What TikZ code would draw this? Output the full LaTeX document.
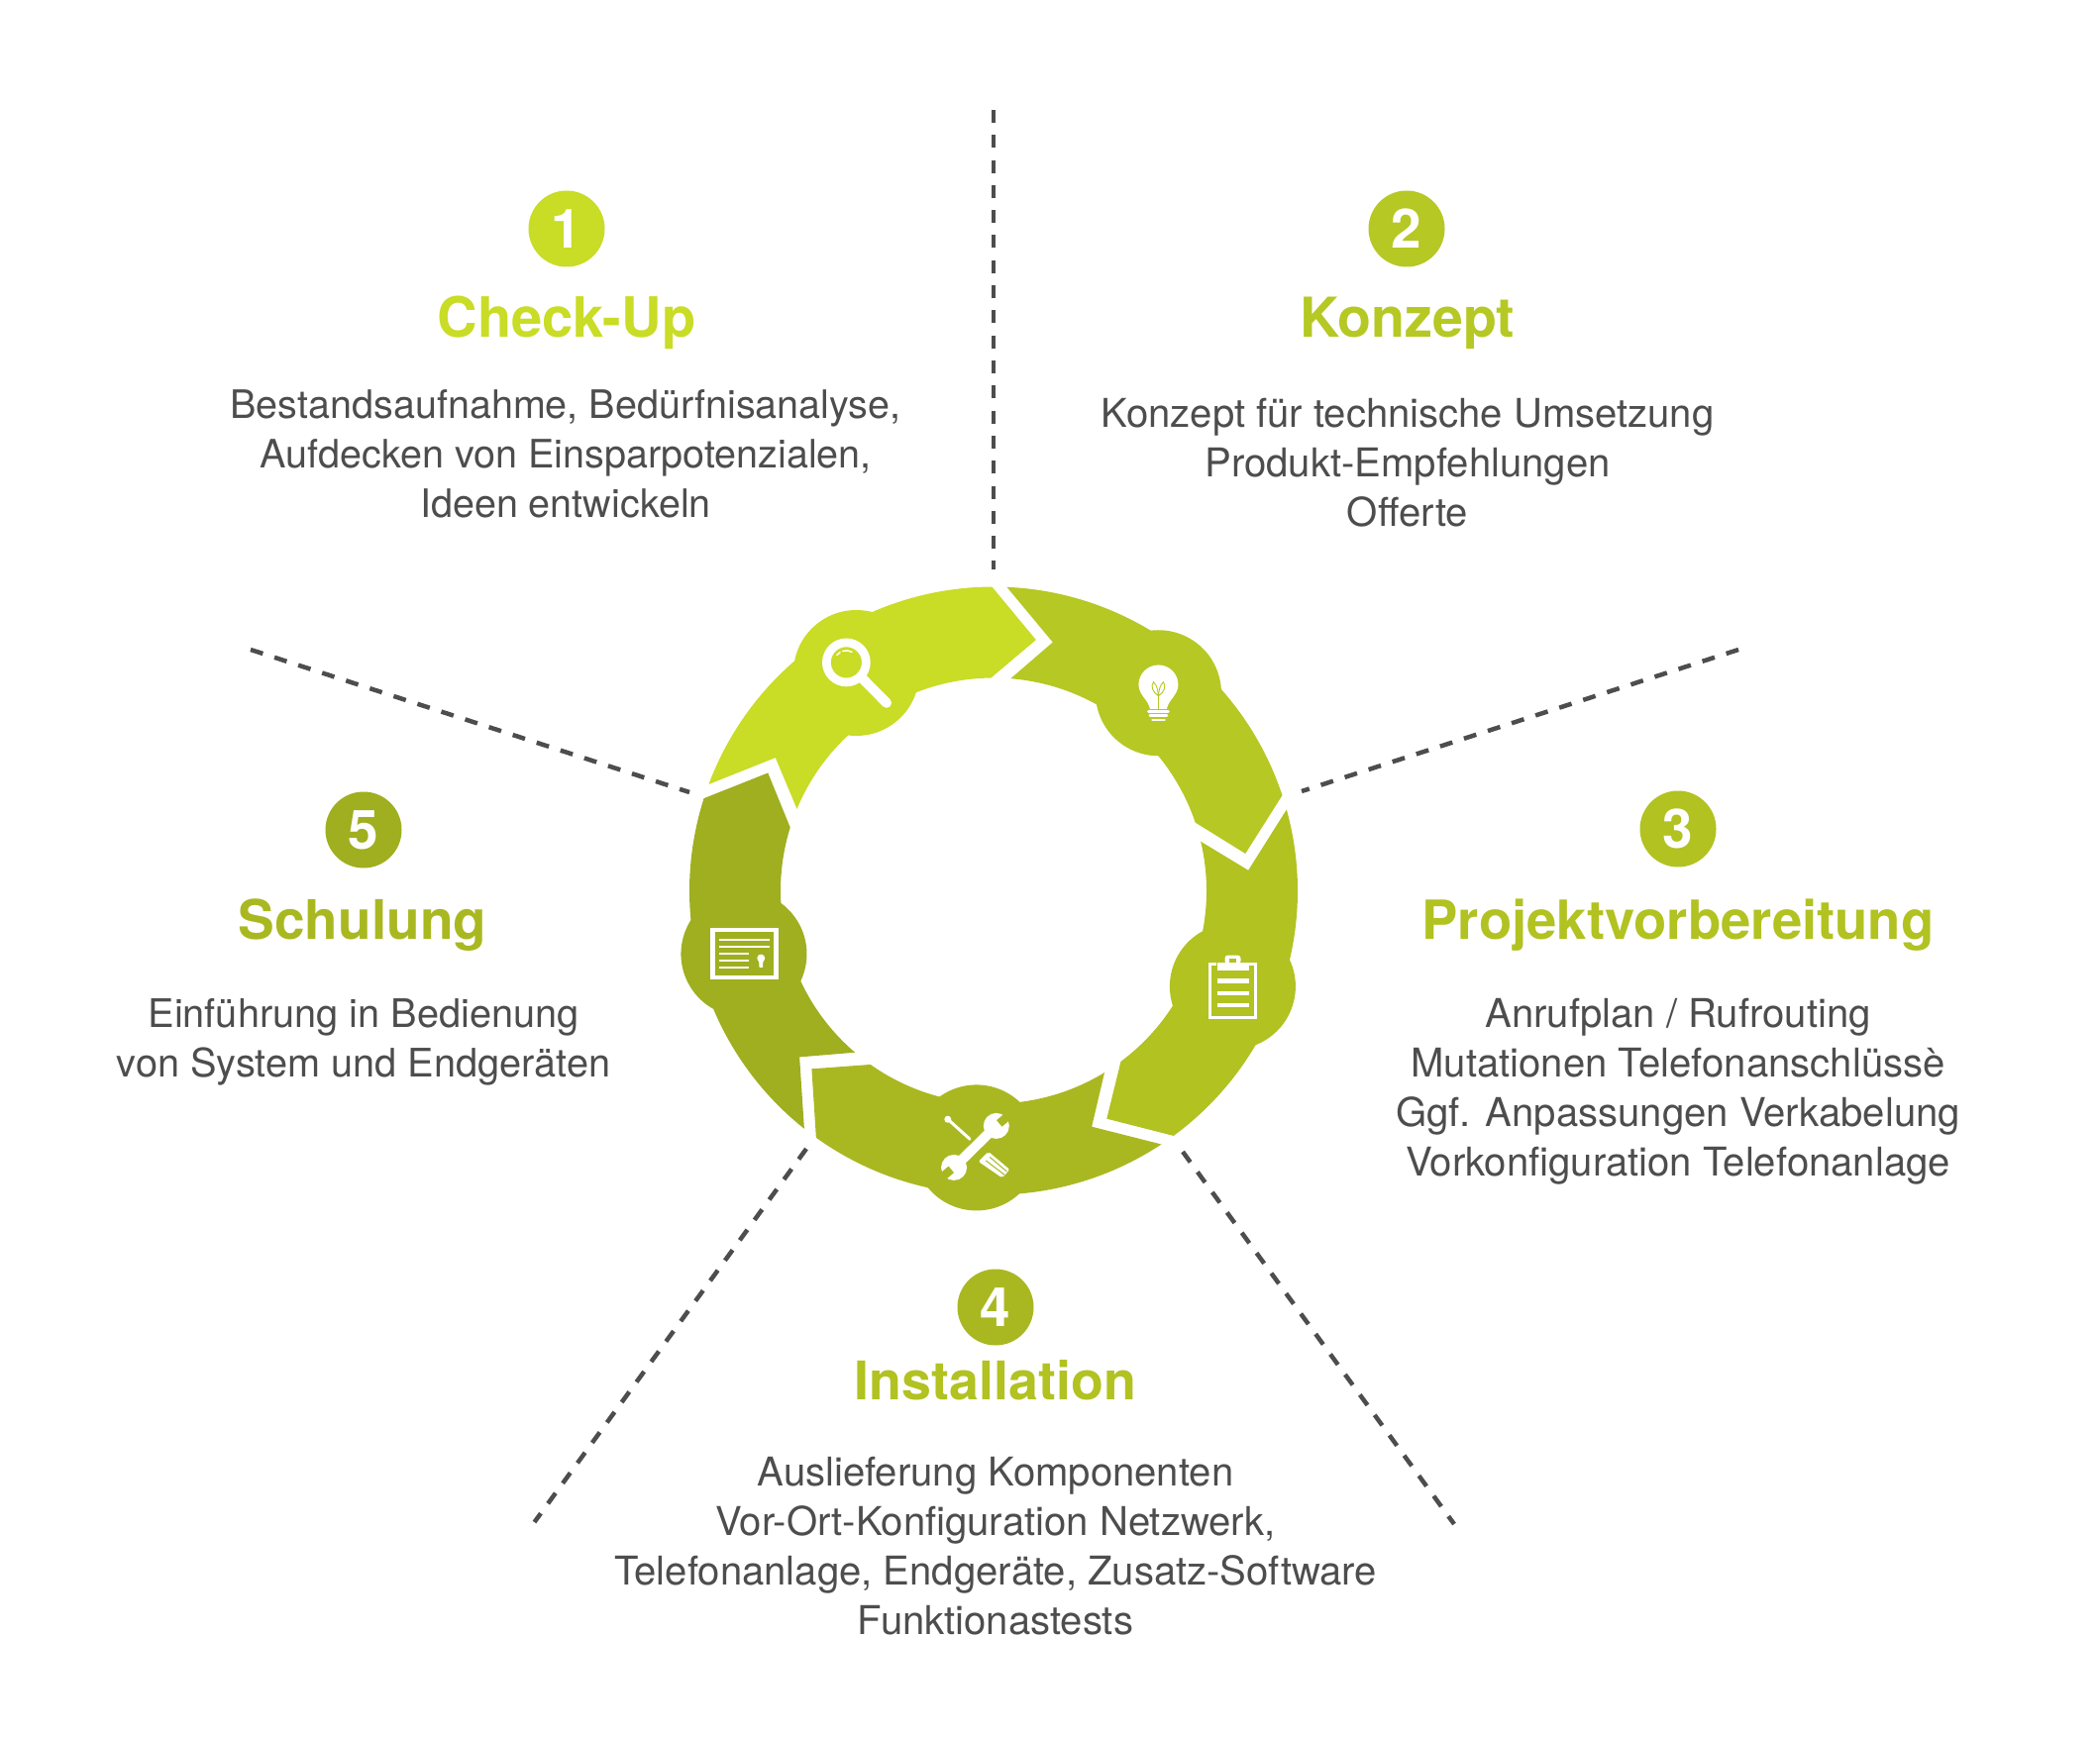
\documentclass[tikz,border=0pt]{standalone}
\usepackage{fontspec}
\setmainfont{TeX Gyre Heros}
\usepackage{xcolor}
\usepackage{tikz}
\usetikzlibrary{calc}
\definecolor{ringa}{HTML}{C9DC26}
\definecolor{ringb}{HTML}{B6C823}
\definecolor{ringc}{HTML}{B1C221}
\definecolor{ringd}{HTML}{A9B821}
\definecolor{ringe}{HTML}{9FAF1F}
\definecolor{inktxt}{HTML}{4D4D4D}
\tikzset{
  spoke/.style={line width=0.045cm, inktxt, dash pattern=on 0.13cm off 0.123cm},
  numdot/.style={circle, minimum size=0.77cm, inner sep=0pt, text=white, font=\fontsize{15.6}{16}\selectfont\bfseries},
  titletxt/.style={inner sep=0pt, font=\fontsize{#1}{18}\selectfont\bfseries},
  titletxt/.default=15.65,
  bodytxt/.style={inner sep=0pt, align=center, text=inktxt, font=\fontsize{#1}{14.22}\selectfont},
  bodytxt/.default=11.4,
  iconlocal/.style={x=0.1cm, y=0.1cm}
}

\begin{document}
\begin{tikzpicture}[x=1cm,y=1cm]
  \useasboundingbox (0,0) rectangle (21.2,17.54);
  \coordinate (mid) at (10.03,8.545);
  \foreach \k/\col in {0/ringa,1/ringb,2/ringc,3/ringd,4/ringe} {
    \begin{scope}[shift={(mid)}, rotate={-72*\k}]
      \fill[\col] (159.5:3.07) arc[start angle=159.5, end angle=90.3, radius=3.07] -- (80.4:2.57) -- (90.7:2.15)
        arc[start angle=90.7, end angle=157.4, radius=2.15] -- (148.6:2.58) -- cycle;
      \fill[\col] (122.2:2.6) circle[radius=0.635];
      \coordinate (bump\k) at (122.2:2.6);
    \end{scope}
  }

  \draw[spoke] (10.03,16.43) -- (10.03,11.79);
  \draw[spoke] (17.55,10.98) -- (13.14,9.55);
  \draw[spoke] (11.94,5.91) -- (14.68,2.15);
  \draw[spoke] (8.14,5.94) -- (5.395,2.17);
  \draw[spoke] (2.53,10.98) -- (6.96,9.54);

  % magnifier
  \begin{scope}[shift={(bump0)}, iconlocal]
    \draw[white, line width=0.087cm] (-1.01,1.06) circle[radius=0.2cm];
    \draw[white, line width=0.1cm, line cap=round] (0.45,-0.4) -- (3.06,-3.03);
    \draw[white, line width=0.015cm, line cap=round] ($(-1.01,1.06)+(142:1.2)$) arc[start angle=142, end angle=122, radius=0.12cm];
    \draw[white, line width=0.015cm, line cap=round] ($(-1.01,1.06)+(108:1.2)$) arc[start angle=108, end angle=62, radius=0.12cm];
  \end{scope}

  % bulb
  \begin{scope}[shift={(bump1)}, iconlocal]
    \fill[white] (-0.85,-1.6) .. controls (-1,-0.7) and (-2,-0.2) .. (-2,0.83) arc[start angle=180, end angle=0, radius=0.2cm]
      .. controls (2,-0.2) and (1,-0.7) .. (0.85,-1.6) -- cycle;
    \draw[ringb, line width=0.018cm] (0,-1.6) -- (0,-0.1);
    \draw[ringb, line width=0.009cm] (0,-0.3) .. controls (-0.6,0.1) and (-0.8,0.7) .. (-0.5,1.1) .. controls (-0.15,0.8) and (-0.05,0.3) .. (0,-0.3);
    \draw[ringb, line width=0.009cm] (0,-0.3) .. controls (0.6,0.1) and (0.8,0.7) .. (0.5,1.1) .. controls (0.15,0.8) and (0.05,0.3) .. (0,-0.3);
    \foreach \yy/\ww in {-1.87/1.0,-2.3/0.85,-2.73/0.6}
      \draw[white, line width=0.028cm, line cap=round] (-\ww,\yy) -- (\ww,\yy);
  \end{scope}

  % clipboard
  \begin{scope}[shift={(bump2)}, iconlocal]
    \draw[white, line width=0.03cm] (-1.6,2.26) -- (-2.27,2.26) -- (-2.27,-3.18) -- (2.33,-3.18) -- (2.33,2.26) -- (1.6,2.26);
    \fill[white] (-1.59,1.58) rectangle (1.61,2.41);
    \fill[white, rounded corners=0.03cm] (-0.79,2.28) rectangle (0.81,3.15);
    \fill[ringc] (-0.36,2.41) rectangle (0.37,2.81);
    \foreach \yy in {0.55,-0.69,-1.88}
      \draw[white, line width=0.042cm] (-1.59,\yy) -- (1.61,\yy);
  \end{scope}

  % tools
  \begin{scope}[shift={(bump3)}, iconlocal]
    \fill[white, rounded corners=0.02cm] (0.2,-1.4) -- (1.2,-0.4) -- (3.35,-2.2) -- (2.6,-3.05) -- cycle;
    \draw[ringd, line width=0.01cm] (0.95,-1.3) -- (2.85,-2.75);
    \draw[ringd, line width=0.01cm] (1.35,-0.95) -- (3.05,-2.4);
    \draw[white, line width=0.1cm] (-2.27,-2) -- (2,2.2);
    \fill[white] (2,2.2) circle[radius=0.13cm];
    \fill[white] (-2.27,-2) circle[radius=0.13cm];
    \draw[ringd, line width=0.085cm] (2.3,2.45) -- (3.5,3.45);
    \draw[ringd, line width=0.085cm] (-2.55,-2.2) -- (-3.75,-3.2);
    \draw[white, line width=0.03cm, line cap=round] (-0.67,0.87) -- (-3,2.97);
    \fill[white] (-2.9,2.87) circle[radius=0.035cm];
  \end{scope}

  % certificate
  \begin{scope}[shift={(bump4)}, iconlocal]
    \draw[white, line width=0.043cm] (-3.155,-2.385) rectangle (3.255,2.415);
    \foreach \yy/\xx in {1.4/2.57,0.73/2.57,0.03/0.5,-0.67/0.5,-1.4/0.5}
      \draw[white, line width=0.02cm] (-2.5,\yy) -- (\xx,\yy);
    \fill[white] (1.73,-0.43) circle[radius=0.04cm];
    \fill[white] (1.5,-0.5) -- (1.96,-0.5) -- (1.9,-1.37) -- (1.56,-1.37) -- cycle;
  \end{scope}

  \node (numa) [numdot, fill=ringa] at (5.72,15.23) {1};
  \node (numb) [numdot, fill=ringb] at (14.20,15.23) {2};
  \node (numc) [numdot, fill=ringc] at (16.94,9.17) {3};
  \node (numd) [numdot, fill=ringd] at (10.05,4.34) {4};
  \node (nume) [numdot, fill=ringe] at (3.67,9.16) {5};

  \node (titlea) [titletxt=15.95, text=ringa] at (5.72,14.28) {Check-Up};
  \node (titleb) [titletxt=15.8, text=ringb] at (14.21,14.28) {Konzept};
  \node (titlec) [titletxt=15.5, text=ringc] at (16.94,8.20) {Projektvorbereitung};
  \node (titled) [titletxt=15.3, text=ringc] at (10.05,3.60) {Installation};
  \node (titlee) [titletxt, text=ringd] at (3.66,8.20) {Schulung};

  \node (bodya) [bodytxt=11.25] at (5.71,12.96) {Bestandsaufnahme, Bedürfnisanalyse,\\Aufdecken von Einsparpotenzialen,\\Ideen entwickeln};
  \node (bodyb) [bodytxt] at (14.21,12.87) {Konzept für technische Umsetzung\\Produkt-Empfehlungen\\Offerte};
  \node (bodyc) [bodytxt] at (16.94,6.52) {Anrufplan / Rufrouting\\Mutationen Telefonanschlüssè\\Ggf. Anpassungen Verkabelung\\Vorkonfiguration Telefonanlage};
  \node (bodyd) [bodytxt] at (10.05,1.93) {Auslieferung Komponenten\\Vor-Ort-Konfiguration Netzwerk,\\Telefonanlage, Endgeräte, Zusatz-Software\\Funktionastests};
  \node (bodye) [bodytxt=11.3] at (3.67,7.02) {Einführung in Bedienung\\von System und Endgeräten};
\end{tikzpicture}
\end{document}
